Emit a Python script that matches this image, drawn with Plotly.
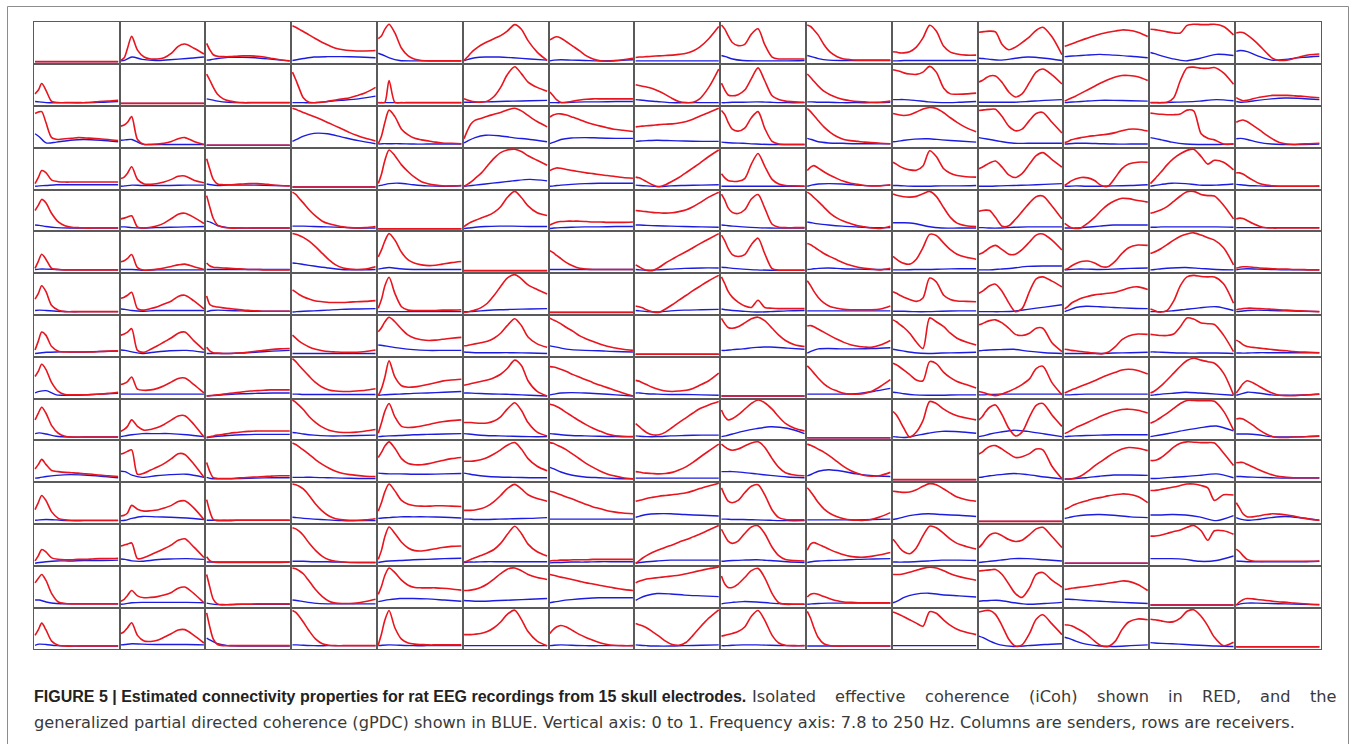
import plotly.graph_objects as go

# Frequency axes (Hz) at which the curves were read
freq_red = [7.8, 17.5, 27.2, 39.3, 56.2, 75.6, 95.0, 114.4, 133.7, 155.5, 174.9, 194.3, 220.9, 250.0]
freq_blue = [7.8, 19.9, 40.0, 70.0, 110.0, 150.0, 199.9, 250.0]

diag_red = [0.0, 0.0, 0.0, 0.0, 0.0, 0.0, 0.0, 0.0, 0.0, 0.0, 0.0, 0.0, 0.0, 0.0]
diag_blue = [0.0, 0.0, 0.0, 0.0, 0.0, 0.0, 0.0, 0.0]

# iCoh (RED), one list per receiver row, 15 senders per row
red_r01 = [diag_red,
 [0.03,0.1,0.35,0.66,0.3,0.12,0.07,0.07,0.1,0.22,0.4,0.46,0.35,0.2],
 [0.48,0.3,0.18,0.14,0.13,0.13,0.14,0.15,0.15,0.14,0.12,0.09,0.05,0.02],
 [0.94,0.9,0.85,0.79,0.7,0.6,0.5,0.42,0.35,0.31,0.29,0.28,0.28,0.29],
 [0.6,0.68,0.85,0.98,0.75,0.35,0.15,0.06,0.03,0.02,0.02,0.02,0.02,0.02],
 [0.03,0.12,0.22,0.32,0.43,0.52,0.6,0.68,0.8,0.97,0.85,0.55,0.25,0.03],
 [0.57,0.62,0.65,0.62,0.52,0.4,0.28,0.15,0.07,0.02,0.01,0.02,0.05,0.09],
 [0.11,0.12,0.12,0.13,0.14,0.15,0.16,0.17,0.19,0.22,0.28,0.38,0.6,0.92],
 [0.96,0.85,0.68,0.5,0.42,0.45,0.72,0.86,0.45,0.12,0.07,0.07,0.07,0.07],
 [0.96,0.92,0.83,0.7,0.45,0.24,0.13,0.07,0.05,0.04,0.04,0.04,0.04,0.04],
 [0.26,0.25,0.23,0.23,0.26,0.38,0.62,0.95,0.8,0.4,0.25,0.2,0.17,0.17],
 [0.77,0.78,0.79,0.8,0.78,0.45,0.31,0.38,0.5,0.65,0.82,0.9,0.65,0.18],
 [0.4,0.43,0.46,0.5,0.56,0.62,0.68,0.73,0.77,0.8,0.83,0.82,0.77,0.66],
 [0.85,0.84,0.83,0.81,0.78,0.75,0.75,0.95,0.98,0.97,0.97,0.98,0.92,0.7],
 [0.75,0.77,0.76,0.7,0.58,0.42,0.24,0.08,0.03,0.04,0.08,0.13,0.18,0.2]]
red_r02 = [[0.25,0.35,0.52,0.35,0.05,0.02,0.02,0.02,0.02,0.02,0.03,0.05,0.06,0.08],
 diag_red,
 [0.77,0.6,0.42,0.24,0.12,0.06,0.03,0.02,0.02,0.02,0.02,0.02,0.02,0.02],
 [0.82,0.62,0.4,0.15,0.03,0.02,0.03,0.06,0.09,0.12,0.15,0.2,0.28,0.42],
 [0.02,0.02,0.03,0.6,0.03,0.02,0.02,0.02,0.02,0.02,0.02,0.02,0.02,0.02],
 [0.12,0.09,0.06,0.04,0.03,0.06,0.18,0.42,0.75,0.96,0.78,0.56,0.42,0.32],
 [0.3,0.2,0.1,0.03,0.03,0.06,0.09,0.11,0.12,0.12,0.12,0.12,0.12,0.12],
 [0.49,0.47,0.45,0.43,0.39,0.32,0.23,0.13,0.05,0.02,0.03,0.12,0.42,0.9],
 [0.53,0.35,0.22,0.2,0.23,0.35,0.65,0.93,0.6,0.2,0.1,0.06,0.04,0.03],
 [0.77,0.68,0.58,0.46,0.32,0.22,0.15,0.1,0.07,0.05,0.04,0.03,0.03,0.06],
 [0.88,0.86,0.84,0.8,0.77,0.76,0.82,0.97,0.82,0.4,0.25,0.24,0.25,0.27],
 [0.56,0.6,0.66,0.72,0.72,0.55,0.3,0.17,0.25,0.55,0.82,0.9,0.75,0.51],
 [0.06,0.1,0.14,0.19,0.27,0.36,0.45,0.54,0.62,0.69,0.73,0.73,0.7,0.6],
 [0.02,0.02,0.02,0.02,0.03,0.15,0.6,0.93,0.95,0.92,0.92,0.94,0.8,0.5],
 [0.15,0.1,0.07,0.08,0.12,0.16,0.19,0.21,0.21,0.21,0.2,0.19,0.17,0.15]]
red_r03 = [[0.83,0.87,0.88,0.6,0.2,0.15,0.17,0.18,0.2,0.19,0.18,0.17,0.15,0.12],
 [0.5,0.53,0.6,0.75,0.15,0.02,0.02,0.03,0.05,0.1,0.17,0.2,0.1,0.02],
 diag_red,
 [0.97,0.94,0.9,0.86,0.8,0.73,0.66,0.58,0.5,0.41,0.33,0.26,0.18,0.11],
 [0.04,0.25,0.6,0.92,0.75,0.42,0.27,0.18,0.14,0.11,0.08,0.06,0.05,0.04],
 [0.17,0.38,0.55,0.65,0.7,0.76,0.81,0.86,0.92,0.97,0.9,0.78,0.62,0.48],
 [0.74,0.79,0.82,0.82,0.79,0.73,0.67,0.6,0.55,0.5,0.46,0.42,0.39,0.36],
 [0.48,0.49,0.5,0.51,0.52,0.54,0.55,0.56,0.58,0.62,0.68,0.76,0.86,0.97],
 [0.91,0.8,0.6,0.42,0.37,0.45,0.72,0.88,0.45,0.1,0.03,0.02,0.02,0.02],
 [0.96,0.88,0.78,0.65,0.48,0.33,0.22,0.15,0.12,0.1,0.08,0.07,0.05,0.04],
 [0.83,0.81,0.79,0.78,0.8,0.87,0.95,0.99,0.96,0.85,0.72,0.6,0.46,0.35],
 [0.91,0.92,0.93,0.94,0.94,0.75,0.5,0.38,0.42,0.65,0.83,0.86,0.6,0.32],
 [0.07,0.1,0.14,0.17,0.2,0.23,0.25,0.27,0.29,0.33,0.38,0.42,0.42,0.37],
 [0.84,0.83,0.82,0.81,0.8,0.8,0.82,0.92,0.9,0.3,0.18,0.14,0.03,0.03],
 [0.6,0.64,0.66,0.62,0.52,0.4,0.27,0.16,0.07,0.03,0.02,0.03,0.04,0.05]]
red_r04 = [[0.09,0.25,0.43,0.38,0.18,0.14,0.13,0.13,0.13,0.13,0.13,0.13,0.13,0.13],
 [0.22,0.26,0.36,0.53,0.2,0.08,0.07,0.09,0.13,0.2,0.28,0.29,0.18,0.11],
 [0.74,0.45,0.2,0.08,0.06,0.06,0.07,0.08,0.09,0.09,0.08,0.06,0.04,0.03],
 diag_red,
 [0.09,0.35,0.7,0.97,0.82,0.58,0.4,0.25,0.14,0.08,0.05,0.03,0.03,0.04],
 [0.02,0.07,0.13,0.22,0.35,0.55,0.75,0.9,0.97,0.99,0.93,0.82,0.7,0.57],
 [0.43,0.47,0.5,0.49,0.46,0.43,0.4,0.37,0.35,0.32,0.3,0.28,0.25,0.23],
 [0.26,0.24,0.2,0.14,0.06,0.01,0.06,0.15,0.25,0.38,0.5,0.62,0.8,0.97],
 [0.35,0.24,0.17,0.15,0.15,0.22,0.6,0.88,0.55,0.2,0.08,0.04,0.03,0.02],
 [0.43,0.52,0.56,0.5,0.4,0.3,0.22,0.15,0.1,0.07,0.04,0.03,0.03,0.06],
 [0.65,0.6,0.54,0.49,0.45,0.44,0.55,0.95,0.8,0.48,0.36,0.3,0.27,0.26],
 [0.48,0.52,0.57,0.63,0.68,0.52,0.32,0.25,0.35,0.6,0.82,0.9,0.72,0.52],
 [0.04,0.1,0.16,0.21,0.25,0.24,0.17,0.04,0.02,0.25,0.48,0.6,0.65,0.65],
 [0.09,0.18,0.28,0.4,0.58,0.75,0.87,0.96,0.99,0.8,0.6,0.7,0.65,0.45],
 [0.37,0.37,0.34,0.27,0.18,0.09,0.05,0.03,0.02,0.02,0.02,0.02,0.02,0.02]]
red_r05 = [[0.48,0.62,0.77,0.68,0.4,0.18,0.08,0.04,0.03,0.02,0.02,0.02,0.02,0.02],
 [0.26,0.28,0.31,0.34,0.05,0.02,0.04,0.08,0.15,0.27,0.38,0.41,0.3,0.14],
 [0.87,0.55,0.27,0.1,0.04,0.02,0.02,0.02,0.02,0.02,0.02,0.02,0.02,0.02],
 [0.96,0.9,0.8,0.68,0.5,0.33,0.2,0.13,0.09,0.05,0.03,0.02,0.03,0.06],
 diag_red,
 [0.06,0.12,0.17,0.22,0.28,0.34,0.43,0.58,0.82,0.98,0.82,0.6,0.42,0.35],
 [0.1,0.14,0.17,0.19,0.2,0.2,0.2,0.19,0.18,0.18,0.17,0.17,0.17,0.18],
 [0.48,0.47,0.46,0.45,0.43,0.42,0.41,0.42,0.45,0.5,0.58,0.68,0.83,0.96],
 [0.91,0.75,0.55,0.43,0.4,0.5,0.78,0.9,0.55,0.12,0.04,0.03,0.03,0.03],
 [0.96,0.9,0.82,0.72,0.57,0.4,0.28,0.2,0.14,0.08,0.05,0.02,0.01,0.07],
 [0.91,0.88,0.86,0.84,0.83,0.85,0.92,0.98,0.85,0.55,0.3,0.15,0.08,0.06],
 [0.46,0.48,0.49,0.48,0.3,0.07,0.08,0.25,0.45,0.68,0.84,0.86,0.6,0.26],
 [0.14,0.08,0.03,0.01,0.03,0.15,0.3,0.48,0.63,0.74,0.8,0.79,0.74,0.7],
 [0.41,0.43,0.46,0.5,0.58,0.72,0.86,0.97,0.98,0.9,0.87,0.86,0.62,0.26],
 [0.26,0.28,0.27,0.22,0.14,0.07,0.03,0.02,0.02,0.02,0.02,0.02,0.02,0.02]]
red_r06 = [[0.06,0.25,0.43,0.3,0.06,0.03,0.02,0.02,0.02,0.02,0.02,0.02,0.02,0.02],
 [0.23,0.26,0.32,0.42,0.08,0.01,0.02,0.04,0.07,0.11,0.15,0.17,0.1,0.03],
 [0.2,0.12,0.09,0.08,0.07,0.06,0.05,0.04,0.03,0.03,0.02,0.02,0.02,0.02],
 [0.97,0.95,0.92,0.87,0.77,0.62,0.45,0.28,0.15,0.07,0.04,0.03,0.04,0.1],
 [0.36,0.55,0.78,0.97,0.8,0.48,0.28,0.19,0.15,0.13,0.14,0.17,0.21,0.24],
 diag_red,
 [0.52,0.47,0.4,0.32,0.21,0.12,0.06,0.04,0.03,0.03,0.03,0.03,0.03,0.03],
 [0.15,0.1,0.05,0.01,0.0,0.08,0.2,0.3,0.4,0.5,0.6,0.7,0.83,0.97],
 [0.93,0.78,0.58,0.42,0.37,0.42,0.68,0.85,0.45,0.05,0.01,0.01,0.01,0.01],
 [0.71,0.68,0.62,0.55,0.45,0.36,0.28,0.2,0.14,0.09,0.06,0.04,0.02,0.06],
 [0.37,0.3,0.24,0.19,0.17,0.3,0.6,0.95,0.92,0.72,0.55,0.43,0.35,0.3],
 [0.43,0.46,0.52,0.6,0.66,0.55,0.43,0.43,0.55,0.75,0.93,0.96,0.8,0.54],
 [0.02,0.06,0.12,0.18,0.24,0.25,0.2,0.11,0.1,0.25,0.45,0.6,0.67,0.66],
 [0.45,0.48,0.52,0.58,0.68,0.8,0.9,0.96,0.99,0.93,0.86,0.8,0.6,0.15],
 [0.06,0.09,0.1,0.1,0.09,0.07,0.06,0.05,0.04,0.04,0.03,0.03,0.02,0.02]]
red_r07 = [[0.35,0.5,0.7,0.55,0.18,0.06,0.02,0.02,0.02,0.02,0.02,0.02,0.02,0.02],
 [0.37,0.4,0.45,0.53,0.1,0.06,0.1,0.15,0.22,0.3,0.42,0.45,0.3,0.09],
 [0.43,0.2,0.16,0.14,0.12,0.1,0.08,0.06,0.05,0.04,0.03,0.03,0.03,0.03],
 [0.59,0.53,0.47,0.41,0.35,0.3,0.28,0.26,0.26,0.26,0.27,0.28,0.29,0.31],
 [0.11,0.35,0.7,0.92,0.5,0.15,0.06,0.05,0.05,0.05,0.05,0.06,0.06,0.07],
 [0.0,0.01,0.03,0.06,0.12,0.24,0.44,0.68,0.9,0.99,0.88,0.72,0.6,0.48],
 diag_red,
 [0.17,0.15,0.12,0.07,0.02,0.0,0.09,0.2,0.32,0.45,0.57,0.68,0.83,0.97],
 [0.93,0.75,0.55,0.4,0.27,0.17,0.13,0.32,0.13,0.11,0.1,0.1,0.1,0.1],
 [0.83,0.7,0.55,0.4,0.25,0.15,0.11,0.08,0.07,0.07,0.07,0.07,0.09,0.17],
 [0.54,0.5,0.45,0.4,0.34,0.29,0.38,0.9,0.8,0.45,0.34,0.3,0.29,0.28],
 [0.5,0.55,0.62,0.7,0.74,0.55,0.25,0.02,0.1,0.55,0.88,0.93,0.82,0.67],
 [0.09,0.16,0.24,0.3,0.37,0.42,0.46,0.48,0.5,0.53,0.58,0.64,0.67,0.6],
 [0.09,0.06,0.02,0.01,0.05,0.3,0.7,0.93,0.97,0.94,0.93,0.93,0.75,0.24],
 [0.07,0.09,0.1,0.11,0.11,0.1,0.09,0.08,0.07,0.06,0.05,0.04,0.03,0.02]]
red_r08 = [[0.11,0.35,0.58,0.5,0.2,0.08,0.06,0.06,0.06,0.06,0.06,0.07,0.08,0.09],
 [0.5,0.53,0.58,0.67,0.1,0.05,0.13,0.22,0.32,0.43,0.55,0.58,0.35,0.11],
 [0.18,0.08,0.04,0.03,0.02,0.02,0.03,0.04,0.06,0.08,0.1,0.12,0.14,0.15],
 [0.5,0.42,0.34,0.27,0.19,0.13,0.09,0.07,0.06,0.05,0.05,0.05,0.07,0.11],
 [0.59,0.7,0.85,0.97,0.85,0.66,0.5,0.42,0.38,0.36,0.37,0.39,0.42,0.44],
 [0.22,0.23,0.25,0.27,0.3,0.34,0.42,0.55,0.75,0.93,0.75,0.45,0.27,0.18],
 [0.94,0.9,0.86,0.8,0.7,0.6,0.48,0.4,0.33,0.26,0.21,0.17,0.13,0.1],
 diag_red,
 [0.94,0.8,0.7,0.68,0.72,0.82,0.93,0.97,0.88,0.68,0.5,0.36,0.25,0.2],
 [0.74,0.75,0.72,0.66,0.58,0.48,0.39,0.31,0.25,0.21,0.19,0.18,0.24,0.36],
 [0.9,0.85,0.78,0.7,0.55,0.32,0.15,0.95,0.85,0.72,0.55,0.42,0.32,0.24],
 [0.77,0.8,0.84,0.88,0.9,0.82,0.68,0.52,0.49,0.55,0.68,0.68,0.3,0.07],
 [0.13,0.12,0.1,0.09,0.07,0.05,0.03,0.01,0.05,0.2,0.38,0.48,0.53,0.52],
 [0.52,0.51,0.5,0.49,0.49,0.53,0.72,0.95,0.92,0.82,0.8,0.78,0.5,0.07],
 [0.37,0.32,0.25,0.2,0.18,0.16,0.14,0.12,0.1,0.09,0.07,0.06,0.05,0.04]]
red_r09 = [[0.51,0.65,0.83,0.7,0.35,0.12,0.04,0.03,0.03,0.03,0.04,0.05,0.07,0.1],
 [0.3,0.33,0.38,0.5,0.18,0.15,0.16,0.2,0.27,0.37,0.46,0.47,0.3,0.08],
 [0.0,0.01,0.02,0.03,0.05,0.07,0.09,0.11,0.13,0.14,0.15,0.16,0.16,0.16],
 [0.98,0.9,0.8,0.68,0.52,0.35,0.23,0.16,0.13,0.12,0.12,0.13,0.15,0.19],
 [0.01,0.2,0.5,0.92,0.5,0.27,0.23,0.24,0.27,0.31,0.35,0.39,0.42,0.44],
 [0.28,0.3,0.32,0.35,0.38,0.42,0.48,0.57,0.72,0.94,0.8,0.4,0.12,0.0],
 [0.77,0.76,0.74,0.7,0.64,0.56,0.49,0.42,0.35,0.28,0.22,0.16,0.08,0.0],
 [0.41,0.39,0.35,0.3,0.23,0.17,0.13,0.12,0.13,0.15,0.2,0.28,0.4,0.6],
 diag_red,
 [0.79,0.7,0.6,0.47,0.32,0.2,0.13,0.07,0.05,0.05,0.07,0.12,0.25,0.43],
 [0.86,0.82,0.76,0.68,0.56,0.42,0.4,0.9,0.85,0.62,0.48,0.38,0.3,0.21],
 [0.12,0.1,0.07,0.04,0.01,0.05,0.12,0.2,0.3,0.45,0.72,0.78,0.35,0.03],
 [0.08,0.12,0.16,0.2,0.26,0.33,0.4,0.48,0.55,0.62,0.68,0.7,0.67,0.58],
 [0.08,0.12,0.18,0.27,0.42,0.6,0.78,0.93,0.99,0.94,0.9,0.86,0.6,0.03],
 [0.08,0.2,0.32,0.4,0.35,0.25,0.15,0.07,0.02,0.01,0.01,0.02,0.03,0.05]]
red_r10 = [[0.47,0.65,0.8,0.65,0.32,0.12,0.04,0.02,0.02,0.02,0.02,0.02,0.02,0.02],
 [0.17,0.22,0.3,0.47,0.3,0.2,0.22,0.27,0.35,0.47,0.57,0.58,0.35,0.02],
 [0.02,0.03,0.05,0.07,0.09,0.12,0.14,0.16,0.17,0.18,0.18,0.18,0.18,0.18],
 [0.99,0.93,0.85,0.74,0.56,0.4,0.28,0.2,0.16,0.14,0.14,0.15,0.18,0.22],
 [0.12,0.4,0.7,0.9,0.55,0.3,0.27,0.28,0.31,0.35,0.39,0.42,0.45,0.47],
 [0.4,0.4,0.4,0.39,0.38,0.39,0.44,0.55,0.75,0.92,0.72,0.4,0.15,0.05],
 [0.88,0.86,0.82,0.76,0.66,0.55,0.44,0.34,0.25,0.17,0.1,0.06,0.04,0.03],
 [0.37,0.3,0.22,0.14,0.08,0.08,0.15,0.27,0.4,0.53,0.65,0.76,0.86,0.95],
 [0.73,0.55,0.47,0.5,0.6,0.75,0.9,0.99,0.92,0.75,0.55,0.38,0.25,0.18],
 diag_red,
 [0.69,0.6,0.45,0.25,0.02,0.15,0.45,0.95,0.9,0.75,0.65,0.58,0.52,0.47],
 [0.47,0.55,0.68,0.8,0.86,0.6,0.25,0.05,0.15,0.55,0.85,0.9,0.6,0.3],
 [0.11,0.15,0.2,0.26,0.33,0.41,0.49,0.57,0.64,0.7,0.74,0.75,0.72,0.65],
 [0.38,0.42,0.47,0.54,0.64,0.77,0.9,0.98,0.98,0.97,0.97,0.96,0.7,0.2],
 [0.49,0.51,0.49,0.43,0.33,0.2,0.1,0.03,0.01,0.01,0.02,0.02,0.03,0.04]]
red_r11 = [[0.28,0.4,0.53,0.4,0.24,0.21,0.19,0.18,0.17,0.15,0.14,0.12,0.1,0.08],
 [0.67,0.7,0.74,0.78,0.14,0.17,0.25,0.33,0.42,0.55,0.68,0.66,0.4,0.06],
 [0.45,0.2,0.05,0.03,0.03,0.03,0.04,0.05,0.06,0.07,0.08,0.09,0.1,0.1],
 [0.96,0.92,0.86,0.78,0.66,0.52,0.4,0.3,0.22,0.16,0.13,0.11,0.09,0.08],
 [0.58,0.72,0.88,0.99,0.82,0.55,0.42,0.39,0.39,0.42,0.46,0.5,0.55,0.58],
 [0.48,0.48,0.48,0.49,0.52,0.58,0.67,0.78,0.9,0.97,0.8,0.55,0.35,0.23],
 [0.97,0.95,0.91,0.86,0.78,0.66,0.54,0.42,0.32,0.22,0.15,0.1,0.05,0.02],
 [0.21,0.2,0.18,0.17,0.16,0.15,0.16,0.19,0.25,0.34,0.45,0.58,0.75,0.93],
 [0.93,0.86,0.8,0.77,0.8,0.88,0.96,0.99,0.85,0.55,0.32,0.18,0.12,0.1],
 [0.93,0.9,0.86,0.8,0.72,0.6,0.47,0.34,0.24,0.16,0.11,0.09,0.11,0.19],
 diag_red,
 [0.67,0.72,0.8,0.87,0.89,0.8,0.68,0.58,0.6,0.68,0.8,0.78,0.35,0.02],
 [0.01,0.01,0.02,0.04,0.1,0.22,0.36,0.48,0.6,0.72,0.8,0.84,0.82,0.76],
 [0.5,0.5,0.52,0.58,0.7,0.85,0.95,0.99,0.98,0.97,0.97,0.96,0.7,0.37],
 [0.44,0.45,0.45,0.4,0.33,0.25,0.18,0.12,0.08,0.06,0.05,0.05,0.05,0.05]]
red_r12 = [[0.31,0.5,0.68,0.55,0.25,0.08,0.04,0.03,0.03,0.03,0.03,0.03,0.03,0.03],
 [0.14,0.16,0.22,0.42,0.32,0.27,0.28,0.3,0.35,0.42,0.52,0.54,0.35,0.05],
 [0.57,0.25,0.05,0.02,0.02,0.02,0.03,0.03,0.03,0.03,0.03,0.03,0.03,0.03],
 [0.98,0.96,0.92,0.85,0.68,0.45,0.27,0.14,0.07,0.04,0.03,0.03,0.04,0.07],
 [0.27,0.5,0.78,0.98,0.8,0.55,0.45,0.41,0.4,0.4,0.41,0.41,0.4,0.39],
 [0.29,0.29,0.29,0.3,0.33,0.4,0.52,0.68,0.86,0.97,0.85,0.7,0.6,0.53],
 [0.79,0.77,0.74,0.7,0.64,0.58,0.51,0.44,0.38,0.33,0.28,0.25,0.22,0.2],
 [0.53,0.55,0.57,0.6,0.63,0.66,0.68,0.7,0.72,0.75,0.8,0.86,0.93,1.0],
 [0.88,0.68,0.53,0.49,0.55,0.75,0.92,0.96,0.7,0.3,0.1,0.05,0.04,0.04],
 [0.88,0.78,0.66,0.5,0.33,0.2,0.12,0.07,0.04,0.03,0.03,0.05,0.12,0.23],
 [0.79,0.78,0.77,0.76,0.77,0.83,0.92,0.99,0.96,0.85,0.74,0.64,0.57,0.53],
 diag_red,
 [0.31,0.35,0.4,0.45,0.5,0.55,0.6,0.63,0.67,0.7,0.72,0.71,0.65,0.49],
 [0.81,0.81,0.82,0.84,0.87,0.9,0.94,0.98,0.98,0.94,0.88,0.55,0.7,0.69],
 [0.49,0.35,0.2,0.12,0.12,0.15,0.18,0.2,0.19,0.17,0.14,0.1,0.06,0.03]]
red_r13 = [[0.06,0.2,0.36,0.3,0.14,0.1,0.09,0.09,0.1,0.1,0.11,0.12,0.12,0.13],
 [0.45,0.48,0.5,0.53,0.12,0.15,0.22,0.3,0.38,0.48,0.6,0.64,0.42,0.15],
 [0.17,0.06,0.03,0.02,0.02,0.02,0.02,0.02,0.02,0.02,0.02,0.02,0.02,0.03],
 [0.93,0.9,0.84,0.73,0.53,0.33,0.18,0.09,0.05,0.03,0.02,0.02,0.02,0.02],
 [0.1,0.35,0.7,0.95,0.78,0.55,0.4,0.33,0.32,0.35,0.38,0.41,0.44,0.45],
 [0.03,0.06,0.1,0.14,0.2,0.27,0.36,0.52,0.75,0.97,0.78,0.5,0.3,0.19],
 [0.06,0.07,0.07,0.08,0.08,0.09,0.09,0.09,0.1,0.1,0.1,0.1,0.1,0.1],
 [0.0,0.06,0.13,0.2,0.28,0.35,0.42,0.48,0.55,0.62,0.69,0.76,0.87,0.99],
 [0.89,0.72,0.58,0.52,0.58,0.78,0.95,0.98,0.78,0.42,0.2,0.1,0.07,0.06],
 [0.34,0.5,0.54,0.5,0.43,0.35,0.28,0.22,0.18,0.16,0.16,0.18,0.22,0.28],
 [0.63,0.52,0.4,0.3,0.25,0.4,0.72,0.97,0.93,0.78,0.63,0.52,0.44,0.37],
 [0.41,0.5,0.62,0.74,0.79,0.72,0.62,0.57,0.6,0.75,0.9,0.94,0.7,0.41],
 diag_red,
 [0.71,0.71,0.72,0.74,0.78,0.83,0.87,0.94,0.99,0.85,0.6,0.85,0.85,0.76],
 [0.37,0.3,0.2,0.1,0.06,0.05,0.05,0.05,0.05,0.05,0.05,0.05,0.05,0.06]]
red_r14 = [[0.58,0.7,0.8,0.65,0.3,0.08,0.04,0.03,0.03,0.03,0.03,0.03,0.03,0.03],
 [0.1,0.15,0.25,0.38,0.24,0.19,0.2,0.22,0.26,0.33,0.44,0.47,0.3,0.06],
 [0.8,0.45,0.15,0.03,0.01,0.01,0.02,0.02,0.02,0.03,0.03,0.03,0.03,0.03],
 [0.97,0.95,0.9,0.82,0.63,0.4,0.22,0.1,0.05,0.04,0.04,0.05,0.09,0.15],
 [0.28,0.5,0.78,0.97,0.85,0.65,0.52,0.46,0.45,0.45,0.45,0.44,0.42,0.39],
 [0.38,0.38,0.39,0.41,0.46,0.55,0.68,0.82,0.94,0.97,0.9,0.8,0.72,0.67],
 [0.8,0.78,0.76,0.73,0.7,0.66,0.62,0.58,0.55,0.51,0.48,0.45,0.41,0.38],
 [0.58,0.62,0.65,0.68,0.7,0.72,0.74,0.76,0.78,0.82,0.86,0.9,0.95,1.0],
 [0.76,0.55,0.46,0.46,0.55,0.72,0.9,0.96,0.72,0.3,0.06,0.02,0.02,0.02],
 [0.21,0.28,0.3,0.28,0.22,0.16,0.11,0.08,0.07,0.06,0.06,0.06,0.06,0.06],
 [0.8,0.8,0.8,0.82,0.86,0.91,0.96,0.99,0.97,0.9,0.82,0.76,0.7,0.65],
 [0.89,0.9,0.91,0.92,0.93,0.8,0.55,0.3,0.2,0.45,0.8,0.85,0.65,0.47],
 [0.41,0.42,0.44,0.45,0.47,0.49,0.52,0.54,0.57,0.6,0.63,0.62,0.54,0.38],
 diag_red,
 [0.0,0.08,0.14,0.17,0.16,0.14,0.12,0.1,0.08,0.07,0.05,0.04,0.02,0.01]]
red_r15 = [[0.3,0.45,0.62,0.45,0.15,0.04,0.02,0.02,0.02,0.02,0.02,0.02,0.02,0.02],
 [0.35,0.4,0.5,0.63,0.3,0.15,0.14,0.17,0.25,0.35,0.44,0.45,0.3,0.1],
 [0.89,0.5,0.2,0.06,0.03,0.03,0.03,0.03,0.03,0.03,0.03,0.03,0.03,0.03],
 [0.95,0.9,0.8,0.65,0.42,0.2,0.08,0.04,0.03,0.03,0.03,0.03,0.03,0.03],
 [0.05,0.35,0.7,0.95,0.5,0.2,0.1,0.07,0.06,0.05,0.05,0.05,0.05,0.05],
 [0.32,0.32,0.32,0.33,0.35,0.4,0.5,0.65,0.85,0.96,0.72,0.4,0.15,0.03],
 [0.35,0.45,0.52,0.56,0.52,0.42,0.32,0.24,0.17,0.1,0.06,0.04,0.03,0.03],
 [0.61,0.58,0.55,0.5,0.4,0.28,0.15,0.06,0.04,0.12,0.3,0.5,0.75,0.97],
 [0.28,0.3,0.32,0.35,0.4,0.52,0.8,0.95,0.7,0.3,0.1,0.04,0.03,0.03],
 [0.93,0.75,0.5,0.25,0.08,0.03,0.02,0.02,0.02,0.02,0.02,0.02,0.02,0.02],
 [0.91,0.88,0.84,0.79,0.71,0.62,0.54,0.92,0.88,0.7,0.56,0.46,0.38,0.32],
 [0.91,0.93,0.95,0.95,0.85,0.55,0.2,0.02,0.05,0.35,0.72,0.84,0.6,0.32],
 [0.58,0.57,0.55,0.5,0.42,0.3,0.15,0.03,0.01,0.15,0.45,0.65,0.73,0.71],
 [0.72,0.71,0.7,0.68,0.65,0.66,0.75,0.93,0.97,0.8,0.55,0.25,0.03,0.12],
 diag_red]

# gPDC (BLUE)
blue_r01 = [diag_blue,
 [0.02,0.04,0.12,0.06,0.03,0.05,0.08,0.12], [0.04,0.05,0.08,0.11,0.11,0.1,0.06,0.02],
 [0.03,0.05,0.08,0.12,0.13,0.13,0.12,0.1], [0.22,0.18,0.1,0.03,0.02,0.02,0.02,0.02],
 [0.03,0.06,0.1,0.12,0.12,0.1,0.07,0.04], [0.02,0.04,0.05,0.04,0.03,0.02,0.03,0.05],
 [0.02,0.02,0.02,0.02,0.02,0.02,0.02,0.02], [0.16,0.13,0.07,0.03,0.02,0.02,0.02,0.03],
 [0.16,0.13,0.08,0.04,0.03,0.03,0.03,0.03], [0.02,0.02,0.03,0.03,0.03,0.03,0.03,0.03],
 [0.09,0.08,0.06,0.04,0.08,0.12,0.09,0.03], [0.13,0.14,0.15,0.17,0.19,0.17,0.14,0.1],
 [0.24,0.21,0.15,0.08,0.02,0.08,0.19,0.16], [0.27,0.29,0.26,0.15,0.04,0.06,0.11,0.14]]
blue_r02 = [[0.05,0.04,0.02,0.02,0.02,0.02,0.03,0.05], diag_blue,
 [0.12,0.1,0.06,0.03,0.02,0.02,0.02,0.02], [0.02,0.02,0.02,0.02,0.05,0.08,0.12,0.19],
 [0.02,0.02,0.02,0.02,0.02,0.02,0.02,0.02], [0.03,0.03,0.03,0.04,0.05,0.06,0.07,0.08],
 [0.02,0.02,0.02,0.03,0.04,0.04,0.05,0.05], [0.1,0.09,0.07,0.05,0.02,0.02,0.02,0.02],
 [0.02,0.02,0.03,0.03,0.04,0.03,0.02,0.02], [0.04,0.04,0.03,0.03,0.02,0.02,0.02,0.03],
 [0.1,0.1,0.1,0.08,0.04,0.02,0.03,0.05], [0.03,0.03,0.03,0.03,0.03,0.05,0.08,0.1],
 [0.02,0.03,0.04,0.06,0.08,0.08,0.07,0.06], [0.02,0.02,0.02,0.03,0.04,0.06,0.1,0.07],
 [0.05,0.03,0.04,0.08,0.12,0.14,0.13,0.1]]
blue_r03 = [[0.3,0.22,0.06,0.08,0.13,0.15,0.13,0.09], [0.13,0.14,0.15,0.03,0.02,0.02,0.02,0.02],
 diag_blue, [0.1,0.15,0.24,0.31,0.3,0.22,0.12,0.04],
 [0.03,0.04,0.04,0.04,0.03,0.03,0.03,0.03], [0.06,0.12,0.2,0.26,0.25,0.2,0.15,0.09],
 [0.04,0.08,0.15,0.19,0.2,0.19,0.18,0.18], [0.1,0.11,0.12,0.13,0.12,0.11,0.1,0.1],
 [0.08,0.07,0.06,0.05,0.03,0.02,0.02,0.02], [0.18,0.15,0.09,0.06,0.05,0.04,0.04,0.04],
 [0.09,0.1,0.13,0.16,0.17,0.14,0.11,0.08], [0.2,0.18,0.15,0.1,0.05,0.05,0.05,0.05],
 [0.03,0.04,0.05,0.05,0.04,0.03,0.03,0.03], [0.2,0.18,0.14,0.08,0.03,0.02,0.02,0.03],
 [0.17,0.18,0.15,0.08,0.03,0.02,0.02,0.03]]
blue_r04 = [[0.02,0.03,0.04,0.06,0.06,0.06,0.06,0.06], [0.02,0.03,0.05,0.04,0.04,0.04,0.05,0.05],
 [0.08,0.06,0.04,0.05,0.05,0.05,0.04,0.03], diag_blue,
 [0.03,0.05,0.09,0.1,0.06,0.03,0.02,0.03], [0.02,0.03,0.05,0.08,0.12,0.16,0.2,0.16],
 [0.02,0.03,0.05,0.07,0.09,0.1,0.1,0.1], [0.05,0.04,0.03,0.01,0.03,0.04,0.05,0.06],
 [0.02,0.02,0.02,0.02,0.02,0.02,0.02,0.02], [0.02,0.05,0.08,0.09,0.08,0.05,0.03,0.05],
 [0.04,0.04,0.03,0.02,0.02,0.03,0.03,0.04], [0.02,0.02,0.02,0.03,0.04,0.05,0.07,0.09],
 [0.02,0.02,0.03,0.02,0.02,0.03,0.04,0.06], [0.02,0.04,0.07,0.1,0.09,0.05,0.05,0.08],
 [0.07,0.06,0.04,0.03,0.02,0.02,0.02,0.03]]
blue_r05 = [[0.1,0.09,0.06,0.03,0.02,0.02,0.02,0.02], [0.05,0.05,0.03,0.02,0.03,0.04,0.05,0.06],
 [0.2,0.17,0.08,0.03,0.02,0.02,0.02,0.02], [0.07,0.07,0.07,0.06,0.05,0.04,0.02,0.02],
 diag_blue, [0.01,0.02,0.04,0.06,0.07,0.07,0.06,0.06],
 [0.01,0.02,0.03,0.04,0.05,0.05,0.06,0.06], [0.1,0.1,0.09,0.08,0.07,0.06,0.05,0.04],
 [0.1,0.09,0.07,0.05,0.03,0.02,0.02,0.02], [0.18,0.16,0.13,0.1,0.07,0.05,0.03,0.03],
 [0.16,0.16,0.16,0.14,0.06,0.02,0.02,0.02], [0.03,0.03,0.02,0.02,0.04,0.05,0.05,0.05],
 [0.02,0.02,0.02,0.04,0.07,0.1,0.1,0.1], [0.04,0.04,0.05,0.05,0.05,0.05,0.05,0.04],
 [0.03,0.03,0.03,0.03,0.03,0.03,0.03,0.03]]
blue_r06 = [[0.03,0.04,0.04,0.03,0.02,0.02,0.02,0.02], [0.03,0.03,0.03,0.01,0.02,0.02,0.02,0.02],
 [0.03,0.03,0.03,0.03,0.03,0.03,0.03,0.03], [0.2,0.19,0.16,0.12,0.07,0.03,0.02,0.03],
 [0.04,0.06,0.08,0.05,0.03,0.03,0.03,0.03], diag_blue,
 [0.03,0.03,0.03,0.03,0.03,0.03,0.03,0.03], [0.03,0.02,0.01,0.02,0.04,0.06,0.07,0.07],
 [0.09,0.08,0.06,0.04,0.02,0.01,0.01,0.01], [0.03,0.04,0.06,0.07,0.05,0.04,0.03,0.03],
 [0.02,0.02,0.02,0.03,0.03,0.04,0.05,0.05], [0.02,0.02,0.02,0.04,0.07,0.11,0.12,0.12],
 [0.02,0.03,0.04,0.04,0.03,0.04,0.06,0.07], [0.02,0.03,0.05,0.07,0.08,0.06,0.03,0.02],
 [0.02,0.04,0.05,0.04,0.03,0.02,0.02,0.02]]
blue_r07 = [[0.05,0.06,0.05,0.03,0.02,0.02,0.02,0.02], [0.09,0.08,0.05,0.03,0.05,0.05,0.05,0.05],
 [0.02,0.05,0.06,0.05,0.04,0.03,0.03,0.03], [0.01,0.02,0.03,0.04,0.06,0.08,0.09,0.1],
 [0.02,0.02,0.02,0.02,0.02,0.02,0.02,0.02], [0.02,0.02,0.03,0.05,0.07,0.08,0.09,0.1],
 diag_blue, [0.05,0.04,0.02,0.01,0.04,0.06,0.07,0.08],
 [0.09,0.07,0.05,0.03,0.01,0.02,0.04,0.05], [0.04,0.04,0.04,0.04,0.04,0.04,0.04,0.04],
 [0.03,0.03,0.03,0.02,0.02,0.03,0.04,0.04], [0.02,0.02,0.02,0.02,0.03,0.08,0.14,0.2],
 [0.02,0.06,0.13,0.16,0.15,0.13,0.11,0.1], [0.02,0.02,0.02,0.04,0.08,0.12,0.15,0.05],
 [0.02,0.03,0.05,0.06,0.05,0.04,0.03,0.02]]
blue_r08 = [[0.02,0.03,0.05,0.06,0.06,0.06,0.07,0.08], [0.11,0.1,0.06,0.02,0.06,0.09,0.1,0.05],
 [0.02,0.02,0.02,0.02,0.03,0.05,0.08,0.1], [0.02,0.02,0.02,0.02,0.02,0.02,0.02,0.02],
 [0.24,0.23,0.2,0.16,0.12,0.1,0.1,0.1], [0.06,0.05,0.04,0.04,0.04,0.04,0.03,0.02],
 [0.22,0.2,0.16,0.12,0.1,0.09,0.07,0.06], diag_blue,
 [0.1,0.1,0.12,0.14,0.18,0.19,0.16,0.13], [0.03,0.08,0.14,0.15,0.14,0.14,0.15,0.17],
 [0.13,0.11,0.08,0.04,0.02,0.03,0.04,0.05], [0.09,0.1,0.11,0.12,0.13,0.08,0.04,0.02],
 [0.02,0.02,0.02,0.02,0.02,0.03,0.04,0.05], [0.06,0.06,0.05,0.04,0.03,0.03,0.03,0.02],
 [0.03,0.03,0.03,0.04,0.04,0.04,0.04,0.04]]
blue_r09 = [[0.08,0.12,0.14,0.03,0.02,0.03,0.05,0.07], [0.05,0.05,0.05,0.05,0.05,0.05,0.05,0.05],
 [0.0,0.01,0.02,0.04,0.06,0.07,0.08,0.08], [0.05,0.05,0.04,0.04,0.04,0.04,0.04,0.04],
 [0.02,0.03,0.04,0.05,0.07,0.08,0.1,0.12], [0.08,0.08,0.07,0.06,0.05,0.04,0.02,0.0],
 [0.03,0.05,0.08,0.09,0.08,0.06,0.03,0.0], [0.08,0.08,0.06,0.05,0.04,0.04,0.03,0.02],
 diag_blue, [0.05,0.05,0.05,0.05,0.05,0.06,0.12,0.2],
 [0.1,0.09,0.06,0.03,0.02,0.02,0.03,0.03], [0.03,0.03,0.04,0.05,0.05,0.05,0.05,0.05],
 [0.03,0.03,0.04,0.05,0.05,0.05,0.05,0.05], [0.02,0.03,0.05,0.07,0.1,0.08,0.05,0.02],
 [0.02,0.05,0.1,0.08,0.03,0.02,0.03,0.05]]
blue_r10 = [[0.11,0.13,0.1,0.04,0.02,0.02,0.02,0.02], [0.03,0.05,0.08,0.11,0.11,0.11,0.08,0.03],
 [0.0,0.02,0.04,0.06,0.08,0.09,0.09,0.09], [0.14,0.13,0.1,0.07,0.05,0.05,0.06,0.07],
 [0.03,0.04,0.05,0.06,0.08,0.09,0.1,0.11], [0.11,0.1,0.08,0.06,0.05,0.04,0.03,0.03],
 [0.11,0.1,0.08,0.06,0.05,0.04,0.03,0.03], [0.05,0.04,0.03,0.03,0.05,0.06,0.07,0.07],
 [0.03,0.05,0.1,0.17,0.24,0.29,0.25,0.11], diag_blue,
 [0.03,0.02,0.01,0.05,0.12,0.17,0.16,0.12], [0.03,0.05,0.1,0.15,0.2,0.17,0.1,0.03],
 [0.03,0.04,0.05,0.06,0.07,0.08,0.08,0.08], [0.03,0.05,0.08,0.13,0.2,0.26,0.31,0.18],
 [0.1,0.1,0.1,0.08,0.03,0.02,0.03,0.05]]
blue_r11 = [[0.04,0.05,0.08,0.11,0.13,0.12,0.09,0.05], [0.22,0.21,0.12,0.06,0.1,0.13,0.14,0.06],
 [0.06,0.03,0.02,0.02,0.03,0.04,0.05,0.05], [0.06,0.06,0.06,0.06,0.05,0.04,0.03,0.03],
 [0.17,0.16,0.15,0.15,0.14,0.14,0.15,0.16], [0.17,0.15,0.12,0.09,0.07,0.06,0.05,0.05],
 [0.32,0.28,0.2,0.12,0.07,0.05,0.03,0.02], [0.04,0.04,0.04,0.04,0.04,0.04,0.04,0.04],
 [0.21,0.21,0.21,0.19,0.15,0.11,0.07,0.05], [0.1,0.14,0.22,0.26,0.22,0.15,0.1,0.08],
 diag_blue, [0.06,0.07,0.1,0.13,0.16,0.13,0.07,0.02],
 [0.02,0.02,0.03,0.05,0.09,0.12,0.12,0.11], [0.03,0.03,0.04,0.06,0.08,0.11,0.15,0.05],
 [0.08,0.08,0.07,0.06,0.05,0.04,0.04,0.04]]
blue_r12 = [[0.03,0.04,0.05,0.04,0.02,0.02,0.02,0.02], [0.02,0.03,0.08,0.13,0.12,0.11,0.09,0.05],
 [0.03,0.03,0.03,0.03,0.03,0.03,0.03,0.03], [0.11,0.1,0.08,0.06,0.04,0.02,0.02,0.02],
 [0.08,0.09,0.1,0.12,0.12,0.12,0.11,0.09], [0.06,0.06,0.05,0.05,0.06,0.07,0.08,0.1],
 [0.06,0.06,0.06,0.06,0.06,0.06,0.06,0.06], [0.11,0.14,0.18,0.2,0.2,0.18,0.16,0.14],
 [0.06,0.06,0.05,0.05,0.04,0.03,0.02,0.02], [0.04,0.04,0.04,0.04,0.04,0.04,0.05,0.06],
 [0.05,0.07,0.12,0.17,0.2,0.18,0.16,0.13], diag_blue,
 [0.08,0.1,0.14,0.17,0.18,0.16,0.12,0.1], [0.17,0.17,0.17,0.18,0.17,0.12,0.02,0.15],
 [0.1,0.06,0.03,0.05,0.1,0.13,0.09,0.03]]
blue_r13 = [[0.0,0.02,0.04,0.06,0.06,0.07,0.07,0.08], [0.11,0.1,0.06,0.05,0.09,0.11,0.12,0.1],
 [0.03,0.03,0.03,0.03,0.03,0.03,0.03,0.03], [0.05,0.05,0.05,0.04,0.04,0.03,0.02,0.02],
 [0.02,0.04,0.06,0.07,0.09,0.1,0.12,0.13], [0.02,0.03,0.03,0.04,0.04,0.04,0.04,0.04],
 [0.01,0.02,0.02,0.03,0.03,0.04,0.04,0.04], [0.0,0.02,0.04,0.06,0.08,0.08,0.08,0.08],
 [0.05,0.06,0.07,0.08,0.09,0.07,0.04,0.02], [0.02,0.04,0.06,0.07,0.08,0.1,0.11,0.12],
 [0.03,0.03,0.03,0.04,0.06,0.08,0.08,0.07], [0.02,0.03,0.05,0.08,0.12,0.12,0.09,0.06],
 diag_blue, [0.12,0.12,0.12,0.12,0.1,0.05,0.07,0.19],
 [0.06,0.05,0.04,0.04,0.04,0.04,0.04,0.05]]
blue_r14 = [[0.13,0.13,0.08,0.04,0.03,0.03,0.03,0.03], [0.02,0.03,0.06,0.07,0.07,0.07,0.07,0.06],
 [0.05,0.03,0.01,0.01,0.02,0.02,0.02,0.02], [0.13,0.12,0.09,0.05,0.03,0.03,0.03,0.03],
 [0.09,0.11,0.14,0.17,0.17,0.16,0.13,0.1], [0.12,0.11,0.1,0.1,0.12,0.13,0.15,0.17],
 [0.06,0.08,0.11,0.14,0.17,0.19,0.19,0.19], [0.12,0.18,0.25,0.3,0.29,0.26,0.24,0.22],
 [0.03,0.05,0.07,0.09,0.08,0.05,0.03,0.02], [0.02,0.03,0.04,0.05,0.05,0.05,0.05,0.05],
 [0.06,0.1,0.2,0.28,0.31,0.27,0.24,0.21], [0.1,0.11,0.12,0.12,0.06,0.02,0.04,0.07],
 [0.15,0.15,0.14,0.12,0.1,0.08,0.06,0.04], diag_blue,
 [0.0,0.03,0.05,0.05,0.04,0.03,0.02,0.01]]
blue_r15 = [[0.04,0.07,0.06,0.03,0.02,0.02,0.02,0.02], [0.05,0.06,0.08,0.07,0.06,0.06,0.06,0.05],
 [0.23,0.17,0.08,0.03,0.02,0.02,0.02,0.02], [0.05,0.05,0.04,0.03,0.03,0.03,0.03,0.03],
 [0.03,0.04,0.05,0.04,0.03,0.03,0.03,0.03], [0.03,0.03,0.03,0.03,0.03,0.03,0.03,0.03],
 [0.03,0.04,0.05,0.04,0.03,0.03,0.03,0.03], [0.05,0.04,0.03,0.02,0.02,0.03,0.04,0.05],
 [0.03,0.03,0.04,0.05,0.05,0.04,0.03,0.03], [0.02,0.02,0.02,0.02,0.02,0.02,0.02,0.02],
 [0.03,0.03,0.03,0.03,0.03,0.03,0.03,0.03], [0.28,0.24,0.15,0.05,0.01,0.03,0.06,0.08],
 [0.25,0.22,0.15,0.07,0.02,0.01,0.03,0.05], [0.11,0.1,0.09,0.08,0.06,0.04,0.02,0.01],
 diag_blue]

caption_bold = "FIGURE 5 | Estimated connectivity properties for rat EEG recordings from 15 skull electrodes."
caption_line1_words = ["Isolated", "effective", "coherence", "(iCoh)", "shown", "in", "RED,", "and", "the"]
caption_line2 = ("generalized partial directed coherence (gPDC) shown in BLUE. Vertical axis: 0 to 1. "
                 "Frequency axis: 7.8 to 250 Hz. Columns are senders, rows are receivers.")

red_rows = [red_r01, red_r02, red_r03, red_r04, red_r05, red_r06, red_r07, red_r08,
            red_r09, red_r10, red_r11, red_r12, red_r13, red_r14, red_r15]
blue_rows = [blue_r01, blue_r02, blue_r03, blue_r04, blue_r05, blue_r06, blue_r07, blue_r08,
             blue_r09, blue_r10, blue_r11, blue_r12, blue_r13, blue_r14, blue_r15]

W, H = 1352, 744
GX0, GY0, CW, CH = 33.7, 22.3, 85.8, 41.8
RED = "#e8141e"
BLUE = "#1c1ce0"
BORDER = "#5a5a5a"
N = 15

fig = go.Figure()
layout = {}
for r in range(N):
    for c in range(N):
        k = r * N + c + 1
        sx = "" if k == 1 else str(k)
        fig.add_trace(go.Scatter(x=freq_blue, y=blue_rows[r][c], xaxis="x" + sx, yaxis="y" + sx,
                                 mode="lines", hoverinfo="skip", showlegend=False,
                                 line=dict(color=BLUE, width=1.4, shape="spline", smoothing=0.8)))
        fig.add_trace(go.Scatter(x=freq_red, y=red_rows[r][c], xaxis="x" + sx, yaxis="y" + sx,
                                 mode="lines", hoverinfo="skip", showlegend=False,
                                 line=dict(color=RED, width=1.6, shape="spline", smoothing=0.8)))
        x0 = (GX0 + c * CW) / W
        x1 = (GX0 + (c + 1) * CW) / W
        y1 = 1 - (GY0 + r * CH) / H
        y0 = 1 - (GY0 + (r + 1) * CH) / H
        common = dict(showline=True, mirror=True, linecolor=BORDER, linewidth=1,
                      showticklabels=False, ticks="", showgrid=False, zeroline=False,
                      fixedrange=True)
        layout["xaxis" + sx] = dict(domain=[x0, x1], anchor="y" + sx, range=[3.8, 254.0], **common)
        layout["yaxis" + sx] = dict(domain=[y0, y1], anchor="x" + sx, range=[-0.065, 1.03], **common)

fig.update_layout(**layout)
BOLD_FONT = dict(family="Liberation Sans, Arial, sans-serif", size=16, color="#222222")
REG_FONT = dict(family="DejaVu Sans, Verdana, sans-serif", size=16.2, color="#3a3a3a")

annotations = [
    dict(xref="paper", yref="paper", x=32 / W, y=1 - 696 / H, xanchor="left", yanchor="middle",
         showarrow=False, align="left", text="<b>" + caption_bold + "</b>", font=BOLD_FONT),
    dict(xref="paper", yref="paper", x=32 / W, y=1 - 722 / H, xanchor="left", yanchor="middle",
         showarrow=False, align="left", text=caption_line2, font=REG_FONT),
]
# first caption line is justified in the original: spread its words across the column
word_left_px = [750, 833, 923, 1027, 1095, 1166, 1200, 1258, 1308]
for word, px in zip(caption_line1_words, word_left_px):
    annotations.append(dict(xref="paper", yref="paper", x=px / W, y=1 - 696 / H,
                            xanchor="left", yanchor="middle", showarrow=False,
                            text=word, font=REG_FONT))

fig.update_layout(
    width=W, height=H, margin=dict(l=0, r=0, t=0, b=0),
    paper_bgcolor="white", plot_bgcolor="white", showlegend=False,
    shapes=[dict(type="rect", xref="paper", yref="paper", x0=7.5 / W, x1=1348.5 / W,
                 y0=-0.05, y1=1 - 6.5 / H, line=dict(color="#8c8c8c", width=1))],
    annotations=annotations,
)

fig.write_html("out.html")
